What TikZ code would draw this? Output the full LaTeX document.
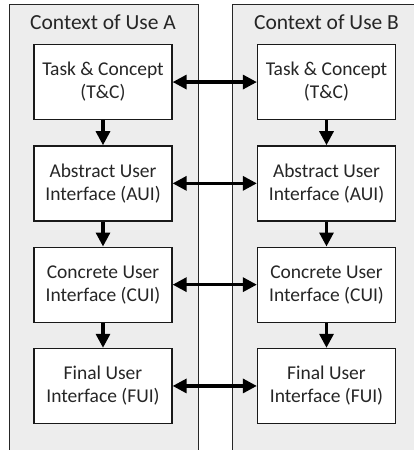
\documentclass[tikz,border=0pt]{standalone}
\usepackage{fontspec}
\setmainfont{Carlito}
\usetikzlibrary{arrows.meta,matrix,positioning}

\begin{document}
\begin{tikzpicture}[x=1pt,y=-1pt,
    ctx/.style={draw=black!85,line width=1.3pt,fill=black!7,inner sep=0pt,
                minimum width=189pt,minimum height=446pt,anchor=north west},
    ctxtitle/.style={font=\fontsize{21.5}{25}\selectfont,text=black!85},
    layer/.style={draw=black!90,line width=1.3pt,fill=white,inner sep=0pt,
                  minimum width=138pt,minimum height=75pt,align=center,
                  font=\fontsize{19.5}{23}\selectfont,text=black!85},
    flow/.style={-{Triangle[length=14pt,width=14pt]},line width=3.2pt},
    map/.style={{Triangle[length=14pt,width=14pt]}-{Triangle[length=14pt,width=14pt]},
                line width=3.2pt}]
  \useasboundingbox (0,0) rectangle (413,450);
%
  \node [ctx] (ctxA) at (8.5,4) {} ;
  \node [ctx] (ctxB) at (231.5,4) {} ;
  \node [ctxtitle] (ttlA) at (103,22) {Context of Use A} ;
  \node [ctxtitle] (ttlB) at (326.5,22) {Context of Use B} ;
%
  \matrix (m) [column sep={223.5pt,between origins},
               row sep={101.3pt,between origins}] at (214.75,234) {
%
  \node [layer] (tcA)  {Task \& Concept\\(T\&C)} ; &
  \node [layer] (tcB)  {Task \& Concept\\(T\&C)} ; \\
  \node [layer] (auiA) {Abstract User\\Interface (AUI)} ; &
  \node [layer] (auiB) {Abstract User\\Interface (AUI)} ; \\
  \node [layer] (cuiA) {Concrete User\\Interface (CUI)} ; &
  \node [layer] (cuiB) {Concrete User\\Interface (CUI)} ; \\
  \node [layer] (fuiA) {Final User\\Interface (FUI)} ; &
  \node [layer] (fuiB) {Final User\\Interface (FUI)} ; \\
%
  } ;
%
  \draw [flow] (tcA)  -- (auiA) ;
  \draw [flow] (auiA) -- (cuiA) ;
  \draw [flow] (cuiA) -- (fuiA) ;
  \draw [flow] (tcB)  -- (auiB) ;
  \draw [flow] (auiB) -- (cuiB) ;
  \draw [flow] (cuiB) -- (fuiB) ;

  \draw [map] (tcA)  -- (tcB) ;
  \draw [map] (auiA) -- (auiB) ;
  \draw [map] (cuiA) -- (cuiB) ;
  \draw [map] (fuiA) -- (fuiB) ;
\end{tikzpicture}
\end{document}
